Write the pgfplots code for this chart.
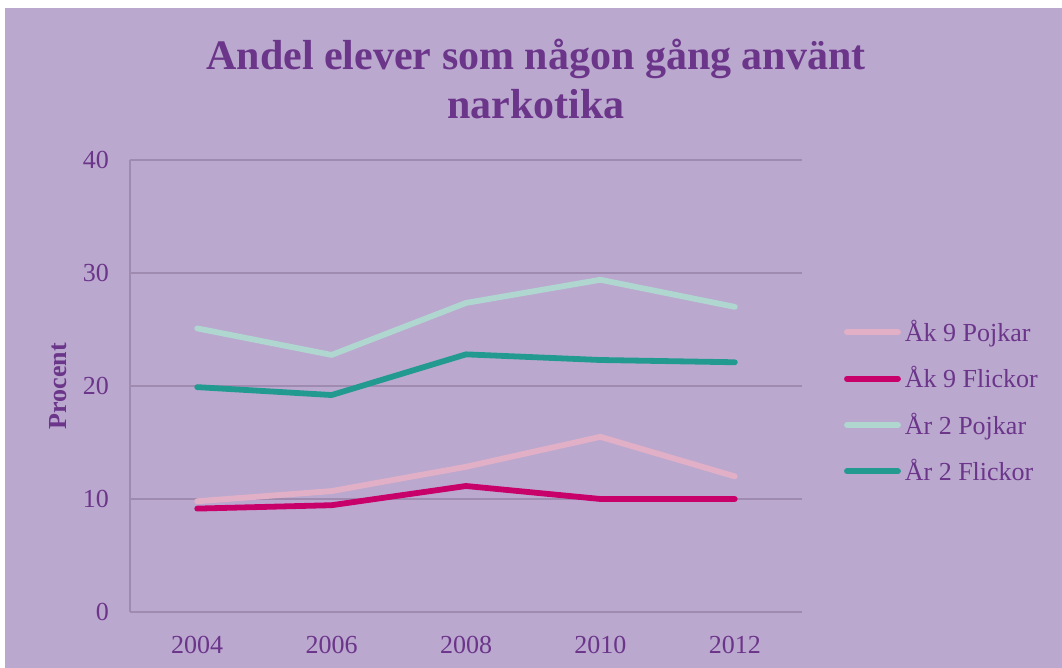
\documentclass[border=0pt]{standalone}
\usepackage{fontspec}
\setmainfont{Liberation Serif}
\usepackage{pgfplots}
\pgfplotsset{compat=1.18}
\definecolor{bg}{HTML}{BBA8CF}
\definecolor{titlec}{HTML}{6B358A}
\definecolor{gridc}{HTML}{9F8BB0}
\definecolor{c1}{HTML}{E2B0C6}
\definecolor{c2}{HTML}{C8006A}
\definecolor{c3}{HTML}{AFD6CF}
\definecolor{c4}{HTML}{229A8F}
\begin{document}
\begin{tikzpicture}[x=1pt,y=1pt]
\useasboundingbox (0,0) rectangle (531,334);
\fill[white] (0,0) rectangle (531,334);
\fill[bg] (2.5,0) rectangle (531,330);
\node[anchor=base, font=\fontsize{21}{24}\selectfont\bfseries, text=titlec, inner sep=0pt] at (268,299) {Andel elever som någon gång använt};
\node[anchor=base, font=\fontsize{21}{24}\selectfont\bfseries, text=titlec, inner sep=0pt] at (268,274.5) {narkotika};
\begin{axis}[
  at={(65pt,28pt)}, anchor=south west, scale only axis,
  width=336pt, height=226pt,
  xmin=-0.5, xmax=4.5, ymin=0, ymax=40,
  xtick={0,1,2,3,4}, xticklabels={2004,2006,2008,2010,2012},
  ytick={0,10,20,30,40},
  axis x line*=bottom, axis y line*=left,
  axis line style={gridc, line width=0.75pt, -},
  ymajorgrids, grid style={gridc, line width=0.75pt},
  major tick length=0pt,
  /pgf/number format/assume math mode=true,
  tick label style={font=\fontsize{13}{15}\selectfont, text=titlec},
  yticklabel style={xshift=-7pt},
  xticklabel style={yshift=-8.5pt},
  ylabel={Procent},
  ylabel style={at={(axis description cs:-0.107,0.5)}, anchor=center, font=\fontsize{13}{15}\selectfont\bfseries, text=titlec},
  every axis plot/.append style={line width=2.9pt, line cap=round, line join=round},
  legend cell align=left,
  legend style={at={(1.062,0.465)}, anchor=west, draw=none, fill=none, inner sep=0pt,
    font=\fontsize{13}{15}\selectfont, text=titlec, row sep=7pt},
  legend image code/.code={\draw[#1, line width=2.9pt, line cap=round] (0pt,0pt) -- (25.5pt,0pt);},
]
\addplot[c1] coordinates {(0,9.8) (1,10.7) (2,12.85) (3,15.5) (4,12.0)};
\addlegendentry{Åk 9 Pojkar}
\addplot[c2] coordinates {(0,9.15) (1,9.45) (2,11.15) (3,10.0) (4,10.0)};
\addlegendentry{Åk 9 Flickor}
\addplot[c3] coordinates {(0,25.1) (1,22.75) (2,27.35) (3,29.4) (4,27.0)};
\addlegendentry{År 2 Pojkar}
\addplot[c4] coordinates {(0,19.9) (1,19.2) (2,22.8) (3,22.3) (4,22.1)};
\addlegendentry{År 2 Flickor}
\end{axis}
\end{tikzpicture}
\end{document}
